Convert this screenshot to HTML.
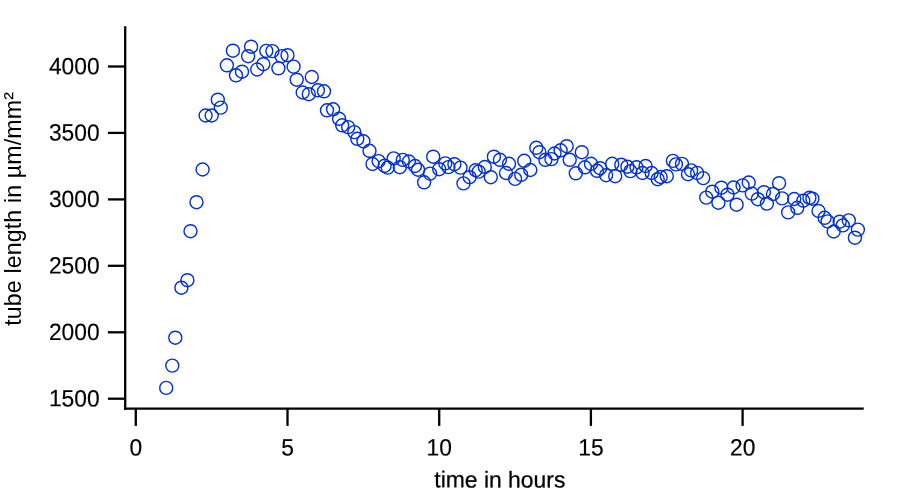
<!DOCTYPE html>
<html><head><meta charset="utf-8"><title>tube length</title>
<style>
html,body{margin:0;padding:0;background:#fff;}
svg{display:block;}
text{font-family:"Liberation Sans",Arial,sans-serif;fill:#000;}
</style></head><body>
<svg width="924" height="493" viewBox="0 0 924 493">
<rect width="924" height="493" fill="#fff"/>
<g stroke="#000" stroke-width="2.3" fill="none">
<line x1="125.2" y1="26.2" x2="125.2" y2="409.75"/>
<line x1="124.05" y1="408.55" x2="863.7" y2="408.55"/>
<line x1="107.9" y1="66.5" x2="125" y2="66.5"/>
<line x1="107.9" y1="132.9" x2="125" y2="132.9"/>
<line x1="107.9" y1="199.4" x2="125" y2="199.4"/>
<line x1="107.9" y1="265.8" x2="125" y2="265.8"/>
<line x1="107.9" y1="332.3" x2="125" y2="332.3"/>
<line x1="107.9" y1="398.7" x2="125" y2="398.7"/>
<line x1="135.8" y1="408" x2="135.8" y2="425.9"/>
<line x1="287.5" y1="408" x2="287.5" y2="425.9"/>
<line x1="439.2" y1="408" x2="439.2" y2="425.9"/>
<line x1="590.9" y1="408" x2="590.9" y2="425.9"/>
<line x1="742.6" y1="408" x2="742.6" y2="425.9"/>
</g>
<g font-size="22.8px" stroke="#000" stroke-width="0.15" stroke-linejoin="round">
<text transform="translate(99.6,74.20) scale(1,1.04) rotate(0.03)" text-anchor="end">4000</text>
<text transform="translate(99.6,140.64) scale(1,1.04) rotate(0.03)" text-anchor="end">3500</text>
<text transform="translate(99.6,207.08) scale(1,1.04) rotate(0.03)" text-anchor="end">3000</text>
<text transform="translate(99.6,273.52) scale(1,1.04) rotate(0.03)" text-anchor="end">2500</text>
<text transform="translate(99.6,339.96) scale(1,1.04) rotate(0.03)" text-anchor="end">2000</text>
<text transform="translate(99.6,406.40) scale(1,1.04) rotate(0.03)" text-anchor="end">1500</text>
<text transform="translate(135.85,455.6) scale(1,1.04) rotate(0.03)" text-anchor="middle">0</text>
<text transform="translate(287.55,455.6) scale(1,1.04) rotate(0.03)" text-anchor="middle">5</text>
<text transform="translate(439.25,455.6) scale(1,1.04) rotate(0.03)" text-anchor="middle">10</text>
<text transform="translate(590.95,455.6) scale(1,1.04) rotate(0.03)" text-anchor="middle">15</text>
<text transform="translate(742.65,455.6) scale(1,1.04) rotate(0.03)" text-anchor="middle">20</text>
<text transform="translate(499.8,487.4) rotate(0.03)" text-anchor="middle" font-size="22.9px" stroke-width="0.25">time in hours</text>
<text transform="translate(21.0,325.8) rotate(-90)" font-size="23.2px" stroke-width="0" letter-spacing="0.125">tube length in µm/mm<tspan dy="-1.8">²</tspan></text>
</g>
<g fill="none" stroke="#0231d0" stroke-width="1.4">
<circle cx="166.2" cy="387.9" r="6.5"/>
<circle cx="172.3" cy="365.6" r="6.5"/>
<circle cx="175.3" cy="337.7" r="6.5"/>
<circle cx="181.4" cy="287.7" r="6.5"/>
<circle cx="187.4" cy="280.2" r="6.5"/>
<circle cx="190.5" cy="231.2" r="6.5"/>
<circle cx="196.5" cy="202.2" r="6.5"/>
<circle cx="202.6" cy="169.5" r="6.5"/>
<circle cx="205.6" cy="115.5" r="6.5"/>
<circle cx="211.7" cy="115.5" r="6.5"/>
<circle cx="217.8" cy="99.7" r="6.5"/>
<circle cx="220.8" cy="107.6" r="6.5"/>
<circle cx="226.9" cy="65.3" r="6.5"/>
<circle cx="232.9" cy="50.7" r="6.5"/>
<circle cx="236.0" cy="75.3" r="6.5"/>
<circle cx="242.0" cy="71.7" r="6.5"/>
<circle cx="248.1" cy="56.2" r="6.5"/>
<circle cx="251.1" cy="46.7" r="6.5"/>
<circle cx="257.2" cy="69.5" r="6.5"/>
<circle cx="263.3" cy="64.2" r="6.5"/>
<circle cx="266.3" cy="50.9" r="6.5"/>
<circle cx="272.4" cy="51.1" r="6.5"/>
<circle cx="278.4" cy="68.3" r="6.5"/>
<circle cx="281.5" cy="56.1" r="6.5"/>
<circle cx="287.5" cy="55.2" r="6.5"/>
<circle cx="293.6" cy="66.6" r="6.5"/>
<circle cx="296.7" cy="79.7" r="6.5"/>
<circle cx="302.7" cy="92.5" r="6.5"/>
<circle cx="308.8" cy="94.2" r="6.5"/>
<circle cx="311.8" cy="77.0" r="6.5"/>
<circle cx="317.9" cy="90.3" r="6.5"/>
<circle cx="324.0" cy="91.3" r="6.5"/>
<circle cx="327.0" cy="110.3" r="6.5"/>
<circle cx="333.1" cy="109.3" r="6.5"/>
<circle cx="339.1" cy="118.8" r="6.5"/>
<circle cx="342.2" cy="125.3" r="6.5"/>
<circle cx="348.2" cy="127.1" r="6.5"/>
<circle cx="354.3" cy="132.1" r="6.5"/>
<circle cx="357.3" cy="138.8" r="6.5"/>
<circle cx="363.4" cy="141.3" r="6.5"/>
<circle cx="369.5" cy="150.8" r="6.5"/>
<circle cx="372.5" cy="164.0" r="6.5"/>
<circle cx="378.6" cy="161.1" r="6.5"/>
<circle cx="384.6" cy="165.8" r="6.5"/>
<circle cx="387.7" cy="167.6" r="6.5"/>
<circle cx="393.7" cy="158.4" r="6.5"/>
<circle cx="399.8" cy="167.2" r="6.5"/>
<circle cx="402.8" cy="159.9" r="6.5"/>
<circle cx="408.9" cy="161.5" r="6.5"/>
<circle cx="415.0" cy="166.0" r="6.5"/>
<circle cx="418.0" cy="169.7" r="6.5"/>
<circle cx="424.1" cy="182.3" r="6.5"/>
<circle cx="430.1" cy="173.6" r="6.5"/>
<circle cx="433.2" cy="156.7" r="6.5"/>
<circle cx="439.2" cy="169.2" r="6.5"/>
<circle cx="445.3" cy="163.4" r="6.5"/>
<circle cx="448.4" cy="167.1" r="6.5"/>
<circle cx="454.4" cy="164.2" r="6.5"/>
<circle cx="460.5" cy="167.6" r="6.5"/>
<circle cx="463.5" cy="183.4" r="6.5"/>
<circle cx="469.6" cy="177.2" r="6.5"/>
<circle cx="475.7" cy="170.2" r="6.5"/>
<circle cx="478.7" cy="171.6" r="6.5"/>
<circle cx="484.8" cy="167.0" r="6.5"/>
<circle cx="490.8" cy="177.2" r="6.5"/>
<circle cx="493.9" cy="156.7" r="6.5"/>
<circle cx="499.9" cy="159.8" r="6.5"/>
<circle cx="506.0" cy="173.0" r="6.5"/>
<circle cx="509.0" cy="163.8" r="6.5"/>
<circle cx="515.1" cy="178.9" r="6.5"/>
<circle cx="521.2" cy="174.8" r="6.5"/>
<circle cx="524.2" cy="160.8" r="6.5"/>
<circle cx="530.3" cy="170.0" r="6.5"/>
<circle cx="536.3" cy="147.8" r="6.5"/>
<circle cx="539.4" cy="152.2" r="6.5"/>
<circle cx="545.4" cy="159.8" r="6.5"/>
<circle cx="551.5" cy="159.1" r="6.5"/>
<circle cx="554.5" cy="153.5" r="6.5"/>
<circle cx="560.6" cy="150.3" r="6.5"/>
<circle cx="566.7" cy="146.2" r="6.5"/>
<circle cx="569.7" cy="159.8" r="6.5"/>
<circle cx="575.8" cy="173.3" r="6.5"/>
<circle cx="581.8" cy="152.2" r="6.5"/>
<circle cx="584.9" cy="167.3" r="6.5"/>
<circle cx="591.0" cy="163.8" r="6.5"/>
<circle cx="597.0" cy="170.8" r="6.5"/>
<circle cx="600.1" cy="168.2" r="6.5"/>
<circle cx="606.1" cy="175.2" r="6.5"/>
<circle cx="612.2" cy="163.8" r="6.5"/>
<circle cx="615.2" cy="176.2" r="6.5"/>
<circle cx="621.3" cy="164.8" r="6.5"/>
<circle cx="627.4" cy="166.7" r="6.5"/>
<circle cx="630.4" cy="171.1" r="6.5"/>
<circle cx="636.5" cy="167.3" r="6.5"/>
<circle cx="642.5" cy="173.0" r="6.5"/>
<circle cx="645.6" cy="166.0" r="6.5"/>
<circle cx="651.6" cy="173.0" r="6.5"/>
<circle cx="657.7" cy="179.2" r="6.5"/>
<circle cx="660.7" cy="177.0" r="6.5"/>
<circle cx="666.8" cy="176.2" r="6.5"/>
<circle cx="672.9" cy="160.9" r="6.5"/>
<circle cx="675.9" cy="164.4" r="6.5"/>
<circle cx="682.0" cy="163.9" r="6.5"/>
<circle cx="688.0" cy="174.2" r="6.5"/>
<circle cx="691.1" cy="170.4" r="6.5"/>
<circle cx="697.1" cy="172.9" r="6.5"/>
<circle cx="703.2" cy="178.1" r="6.5"/>
<circle cx="706.2" cy="197.6" r="6.5"/>
<circle cx="712.3" cy="191.7" r="6.5"/>
<circle cx="718.4" cy="202.7" r="6.5"/>
<circle cx="721.4" cy="187.7" r="6.5"/>
<circle cx="727.5" cy="194.7" r="6.5"/>
<circle cx="733.5" cy="187.5" r="6.5"/>
<circle cx="736.6" cy="204.7" r="6.5"/>
<circle cx="742.6" cy="185.4" r="6.5"/>
<circle cx="748.7" cy="182.5" r="6.5"/>
<circle cx="751.8" cy="193.6" r="6.5"/>
<circle cx="757.8" cy="199.2" r="6.5"/>
<circle cx="763.9" cy="192.2" r="6.5"/>
<circle cx="766.9" cy="203.6" r="6.5"/>
<circle cx="773.0" cy="194.0" r="6.5"/>
<circle cx="779.1" cy="183.2" r="6.5"/>
<circle cx="782.1" cy="198.4" r="6.5"/>
<circle cx="788.2" cy="212.4" r="6.5"/>
<circle cx="794.2" cy="199.0" r="6.5"/>
<circle cx="797.3" cy="207.8" r="6.5"/>
<circle cx="803.3" cy="200.7" r="6.5"/>
<circle cx="809.4" cy="197.8" r="6.5"/>
<circle cx="812.4" cy="198.7" r="6.5"/>
<circle cx="818.5" cy="211.0" r="6.5"/>
<circle cx="824.6" cy="217.8" r="6.5"/>
<circle cx="827.6" cy="221.4" r="6.5"/>
<circle cx="833.7" cy="231.5" r="6.5"/>
<circle cx="839.7" cy="221.7" r="6.5"/>
<circle cx="842.8" cy="225.4" r="6.5"/>
<circle cx="848.8" cy="220.4" r="6.5"/>
<circle cx="854.9" cy="237.7" r="6.5"/>
<circle cx="857.9" cy="229.6" r="6.5"/>
</g>
</svg>
</body></html>
